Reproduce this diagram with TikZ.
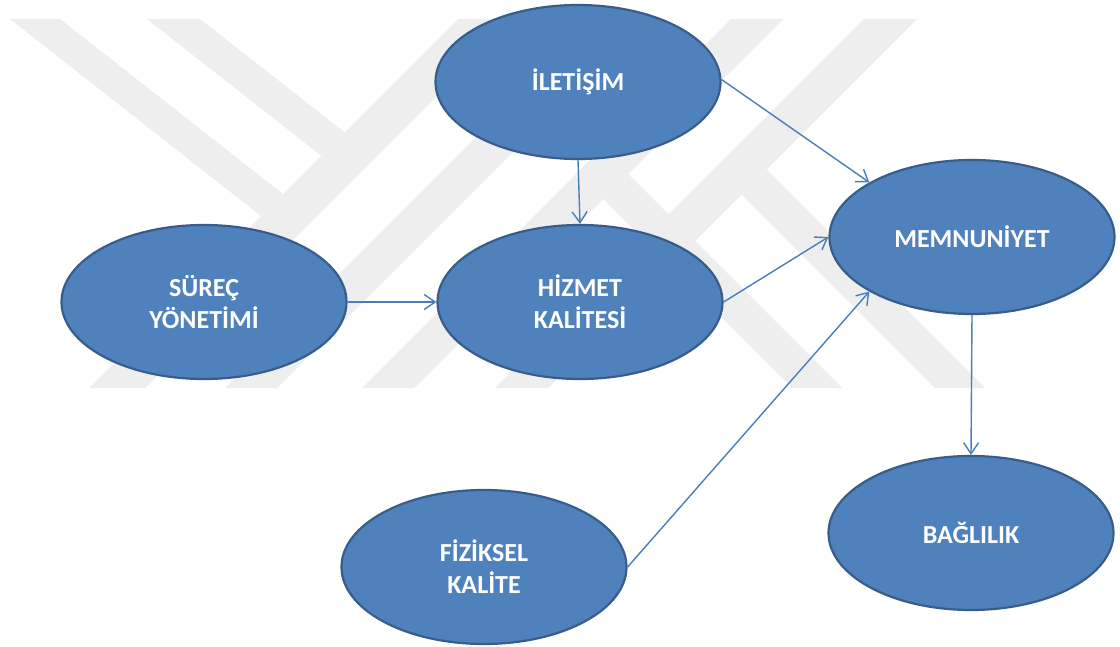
\documentclass[tikz,border=0pt]{standalone}
\usepackage{fontspec}
\setmainfont{Carlito}
\usetikzlibrary{shapes.geometric,arrows.meta}
\definecolor{ovalfill}{RGB}{79,129,189}
\definecolor{ovaledge}{RGB}{56,93,138}
\definecolor{linkblue}{RGB}{74,126,187}
\definecolor{wmgray}{RGB}{238,238,238}
\begin{document}
\begin{tikzpicture}[x=1pt,y=-1pt,
  oval/.style={ellipse, draw=ovaledge, line width=2.2pt, fill=ovalfill,
    minimum width=285pt, minimum height=154pt, inner sep=0pt,
    text=white, align=center, font=\bfseries\fontsize{26}{32}\selectfont},
  link/.style={draw=linkblue, line width=1.4pt,
    -{Straight Barb[length=11pt,width=15pt,line width=1.4pt]}},
  wm/.style={fill=wmgray, draw=none}]

% page
\useasboundingbox (0,0) rectangle (1120,647);
\fill[white] (0,0) rectangle (1120,647);

% background emblem: diagonal bands
\fill[wm] (89,388) -- (145,388) -- (514,19) -- (458,19) -- cycle;
\fill[wm] (225,388) -- (277,388) -- (646,19) -- (594,19) -- cycle;
\fill[wm] (362,388) -- (414,388) -- (783,19) -- (731,19) -- cycle;
\fill[wm] (495,388) -- (548,388) -- (917,19) -- (864,19) -- cycle;
\fill[wm] (10,19) -- (60,19) -- (283,194) -- (261,216) -- cycle;
\fill[wm] (147,19) -- (200,19) -- (344.6,132.4) -- (321.3,155.7) -- cycle;
\fill[wm] (628,174) -- (842,388) -- (792,388) -- (603,199) -- cycle;
\fill[wm] (766.5,169.5) -- (985,388) -- (935,388) -- (741.5,194.5) -- cycle;

% ovals
\node[oval] (ilet)   at (578,82)  {İLETİŞİM};
\node[oval] (surec)  at (204,302) {SÜREÇ\\YÖNETİMİ};
\node[oval] (hizmet) at (580,302) {HİZMET\\KALİTESİ};
\node[oval] (memnun) at (972,237) {MEMNUNİYET};
\node[oval] (bag)    at (971,533) {BAĞLILIK};
\node[oval] (fiz)    at (484,567) {FİZİKSEL\\KALİTE};

% links
\draw[link] (ilet.south) -- (hizmet.north);
\draw[link] (ilet.1) -- (memnun.152);
\draw[link] (surec.east) -- (hizmet.west);
\draw[link] (hizmet.east) -- (memnun.west);
\draw[link] (fiz.east) -- (memnun.208);
\draw[link] (memnun.south) -- (bag.north);
\end{tikzpicture}
\end{document}
